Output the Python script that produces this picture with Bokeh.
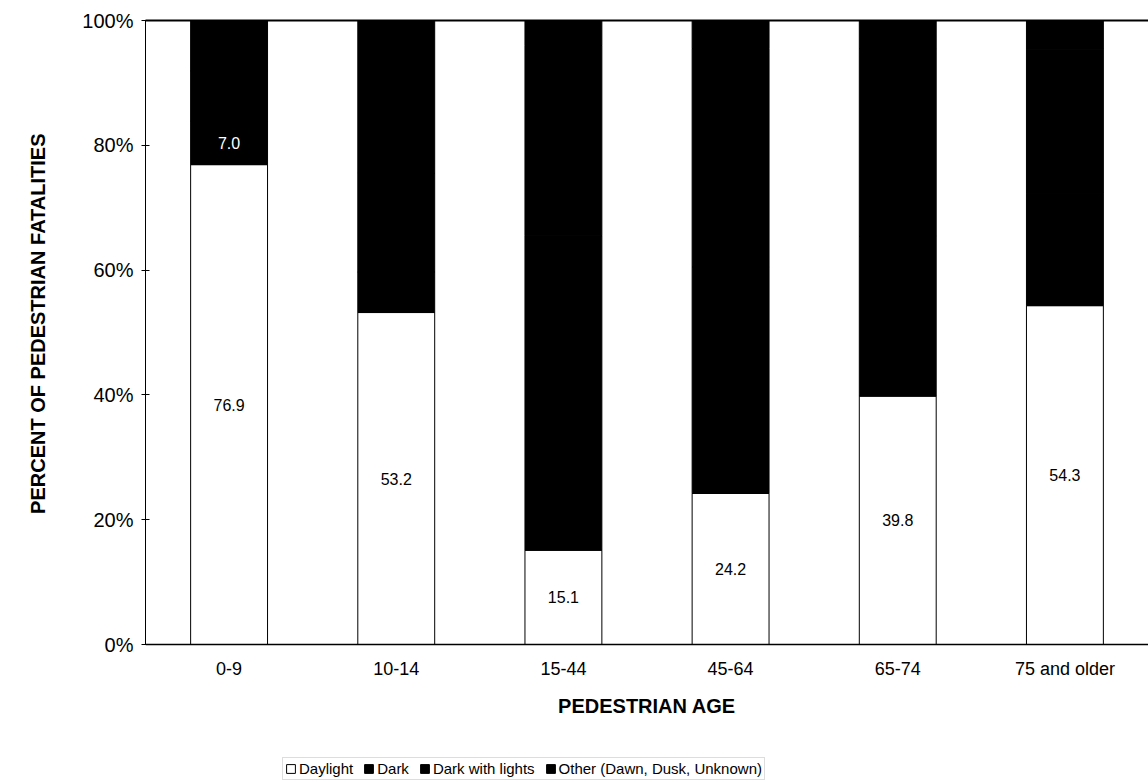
from bokeh.plotting import figure
from bokeh.models import (ColumnDataSource, FixedTicker, PrintfTickFormatter, Legend,
                          LegendItem, LabelSet, LinearAxis)
from bokeh.core.properties import value
from bokeh.embed import file_html
from bokeh.resources import INLINE

ages = ["0-9", "10-14", "15-44", "45-64", "65-74", "75 and older"]
daylight = [76.9, 53.2, 15.1, 24.2, 39.8, 54.3]
dark = [7.0, 6.5, 50.4, 36.3, 25.6, 18.0]
dark_lights = [8.0, 15.8, 30.5, 35.0, 30.1, 23.1]
other = [8.1, 24.5, 4.0, 4.5, 4.5, 4.6]
series = ["Daylight", "Dark", "Dark with lights", "Other (Dawn, Dusk, Unknown)"]
y_ticks = [0, 20, 40, 60, 80, 100]
y_title = "PERCENT OF PEDESTRIAN FATALITIES"
x_title = "PEDESTRIAN AGE"

FONT = "Liberation Sans"

# vertical layout: 100% spans 624 px; 138 px of space under the 0% line
PX_PER_UNIT = 624 / 100
Y_MIN = -138 / PX_PER_UNIT

src = ColumnDataSource(dict(
    age=ages, daylight=daylight, dark=dark, dark_lights=dark_lights, other=other,
    day_mid=[d / 2 for d in daylight],
    day_lbl=["%.1f" % d for d in daylight],
))

p = figure(x_range=ages, y_range=(Y_MIN, 100), frame_width=1003, frame_height=762,
           output_backend="svg", toolbar_location=None,
           min_border_left=145, min_border_right=0, min_border_top=20,
           min_border_bottom=0)

fills = ["white", "black", "black", "black"]
rs = p.vbar_stack(["daylight", "dark", "dark_lights", "other"], x="age", width=0.46,
                  source=src, fill_color=fills, line_color="black", line_width=1)

# labels
p.add_layout(LabelSet(x="age", y="day_mid", text="day_lbl", source=src,
                      text_align="center", text_baseline="middle",
                      text_font=value(FONT), text_font_size="16px", text_color="black"))
dsrc = ColumnDataSource(dict(age=ages[:1], y=[daylight[0] + dark[0] / 2],
                             t=["%.1f" % dark[0]]))
p.add_layout(LabelSet(x="age", y="y", text="t", source=dsrc, text_align="center",
                      text_baseline="middle", text_font=value(FONT), text_font_size="16px",
                      text_color="white"))

p.xgrid.visible = False
p.ygrid.visible = False
p.outline_line_color = None

yax = p.yaxis[0]
yax.bounds = (0, 100)
yax.ticker = FixedTicker(ticks=y_ticks)
yax.formatter = PrintfTickFormatter(format="%d%%")
yax.minor_tick_line_color = None
yax.major_tick_in = 4
yax.major_tick_out = 4
yax.major_label_standoff = 8
yax.major_label_text_font = FONT
yax.major_label_text_font_size = "20px"
yax.major_label_text_color = "black"
# leading no-break spaces lift the title so it is centred on the 0-100% span
yax.axis_label = "\u00a0" * 28 + y_title
yax.axis_label_text_font = FONT
yax.axis_label_text_font_style = "bold"
yax.axis_label_text_font_size = "20px"
yax.axis_label_text_color = "black"
yax.axis_label_standoff = 30
yax.axis_line_color = "black"

xax = p.xaxis[0]
xax.fixed_location = 0
xax.major_tick_line_color = None
xax.major_tick_out = 0
xax.major_tick_in = 0
xax.minor_tick_line_color = None
xax.major_label_standoff = 14
xax.major_label_text_font = FONT
xax.major_label_text_font_size = "18px"
xax.major_label_text_color = "black"
xax.axis_label = x_title
xax.axis_label_text_font = FONT
xax.axis_label_text_font_style = "bold"
xax.axis_label_text_font_size = "20px"
xax.axis_label_text_color = "black"
xax.axis_label_standoff = 13
xax.axis_line_color = "black"
xax.axis_line_width = 1.5

# top border line of the plot area
top = LinearAxis(ticker=FixedTicker(ticks=[]), major_label_text_font_size="0px",
                 major_tick_line_color=None, minor_tick_line_color=None,
                 axis_line_color="black", axis_line_width=2)
p.add_layout(top, "above")

legend = Legend(items=[LegendItem(label=s, renderers=[r]) for s, r in zip(series, rs)],
                orientation="horizontal", location=(137, 2),
                label_text_font=FONT, label_text_font_size="15px",
                label_text_color="black", glyph_width=11, glyph_height=11,
                label_standoff=3, spacing=10, padding=2, margin=0,
                border_line_color="#bbbbbb", border_line_width=1,
                label_height=15, background_fill_alpha=0)
p.add_layout(legend)

open("out.html", "w").write(file_html(p, INLINE))
